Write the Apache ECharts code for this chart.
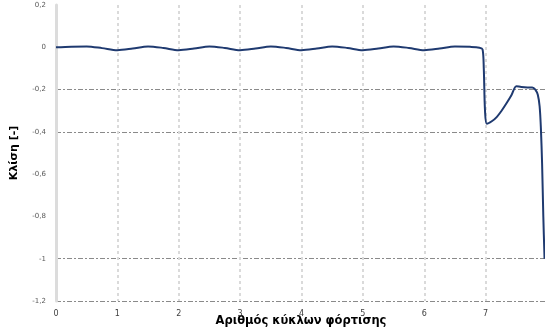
<!DOCTYPE html>
<html><head><meta charset="utf-8">
<script src="https://cdn.jsdelivr.net/npm/echarts@6/dist/echarts.min.js"></script>
<style>html,body{margin:0;padding:0;background:#fff}#c{width:545px;height:329px}</style>
</head><body><div id="c"></div>
<script>
// Cycle number (x) and slope (y)
const cycles = [0,0.25,0.5,0.75,1,1.25,1.5,1.75,2,2.25,2.5,2.75,3,3.25,3.5,3.75,4,4.25,4.5,4.75,5,5.25,5.5,5.75,6,6.25,6.5,6.75,6.9,6.95,6.97,6.99,7.02,7.1,7.18,7.26,7.34,7.42,7.5,7.58,7.68,7.76,7.81,7.85,7.88,7.9,7.92,7.94,7.96];
const slope  = [0,0.003,0.004,-0.004,-0.014,-0.006,0.004,-0.003,-0.014,-0.006,0.004,-0.003,-0.014,-0.006,0.004,-0.003,-0.014,-0.006,0.004,-0.003,-0.014,-0.006,0.004,-0.003,-0.014,-0.006,0.004,0.002,-0.002,-0.01,-0.1,-0.3,-0.362,-0.35,-0.33,-0.3,-0.265,-0.227,-0.184,-0.188,-0.19,-0.19,-0.2,-0.225,-0.28,-0.38,-0.55,-0.8,-1.0];
const xTicks = [0,1,2,3,4,5,6,7,8];
const yTicks = [-1.2,-1,-0.8,-0.6,-0.4,-0.2,0,0.2];
const yGridShown = [-1.2,-1,-0.4,-0.2];
const xTitle = 'Αριθμός κύκλων φόρτισης';
const yTitle = 'Κλίση [-]';

const chart = echarts.init(document.getElementById('c'), null, {renderer:'canvas'});
const gridColors = yTicks.map(v => yGridShown.some(g => Math.abs(g - v) < 1e-9) ? '#8a8a8a' : 'rgba(0,0,0,0)');
chart.setOption({
  animation:false,
  grid:{left:56,right:-2,top:5,bottom:28,containLabel:false,outerBoundsMode:'none'},
  xAxis:{type:'value',min:xTicks[0],max:xTicks[xTicks.length-1],interval:1,
    axisLine:{show:true,onZero:true,lineStyle:{color:'rgba(0,0,0,0)'}},
    axisTick:{show:false},
    axisLabel:{fontSize:8,color:'#404040',margin:9,fontFamily:'DejaVu Sans',
      formatter:v=>v>=8?'':String(v)},
    splitLine:{show:true,lineStyle:{color:'#dadada',width:2,type:[3,3]}}},
  yAxis:{type:'value',min:-1.2,max:0.2,interval:0.2,
    name:yTitle,nameLocation:'middle',nameGap:36,
    nameTextStyle:{fontSize:11,fontWeight:'bold',color:'#000',fontFamily:'DejaVu Sans'},
    axisLine:{show:true,onZero:false,lineStyle:{color:'#dcdcdc',width:3}},
    axisTick:{show:false},
    axisLabel:{fontSize:7,color:'#595959',margin:10,fontFamily:'DejaVu Sans',
      formatter:v=>String(Math.round(v*10)/10).replace('.',',')},
    splitLine:{show:true,lineStyle:{color:gridColors,width:1,type:[5,2,2,2]}}},
  graphic:[{type:'text',x:301,y:315,style:{text:xTitle,align:'center',fontSize:11.5,fontWeight:'bold',fill:'#000',fontFamily:'DejaVu Sans'}}],
  series:[{type:'line',data:cycles.map((x,i)=>[x,slope[i]]),showSymbol:false,smooth:0.3,
    lineStyle:{color:'#1f3a70',width:2},z:5}]
});
</script></body></html>
